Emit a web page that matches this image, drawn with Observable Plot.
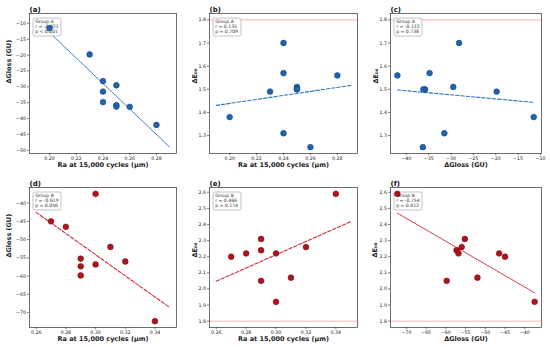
<!DOCTYPE html>
<html><head><meta charset="utf-8">
<script src="https://cdn.jsdelivr.net/npm/d3@7"></script>
<script src="https://cdn.jsdelivr.net/npm/@observablehq/plot@0.6"></script>
<style>
body{margin:0;background:#fff;}
#fig{position:relative;width:550px;height:347px;font-family:"DejaVu Sans";}
#fig svg{position:absolute;overflow:visible;}
</style></head><body><div id="fig"></div>
<script>
// ---- Data ----
// Group A
const raA    = [0.20, 0.23, 0.24, 0.24, 0.24, 0.25, 0.25, 0.25, 0.26, 0.28];
const glossA = [-11.5, -19.8, -28.2, -31.5, -34.8, -29.5, -35.8, -36.2, -36.3, -42.0];
const deA    = [1.38, 1.49, 1.70, 1.31, 1.57, 1.51, 1.50, 1.50, 1.25, 1.56];
// Group B
const raB    = [0.27, 0.28, 0.29, 0.29, 0.29, 0.30, 0.30, 0.31, 0.32, 0.34];
const glossB = [-45.0, -46.5, -55.2, -57.3, -59.8, -37.5, -56.8, -52.0, -56.0, -72.3];
const deB    = [2.20, 2.22, 2.31, 2.24, 2.05, 1.92, 2.22, 2.07, 2.26, 2.59];

const deThreshold = 1.8;

// panel labels and annotation texts
const panelLabels = ["(a)", "(b)", "(c)", "(d)", "(e)", "(f)"];
const groupNames  = ["Group A", "Group A", "Group A", "Group B", "Group B", "Group B"];
const rTexts = ["r = -0.921", "r = 0.135", "r = -0.122", "r = -0.619", "r = 0.466", "r = -0.754"];
const pTexts = ["p < 0.001", "p = 0.709", "p = 0.738", "p = 0.056", "p = 0.174", "p = 0.012"];

// tick values
const raTicksA    = [0.20, 0.22, 0.24, 0.26, 0.28];
const raTicksB    = [0.26, 0.28, 0.30, 0.32, 0.34];
const glossTicksA = [-50, -45, -40, -35, -30, -25, -20, -15, -10];
const glossTicksAx = [-40, -35, -30, -25, -20, -15, -10];
const glossTicksB = [-70, -65, -60, -55, -50, -45, -40];
const deTicksA    = [1.3, 1.4, 1.5, 1.6, 1.7, 1.8];
const deTicksB    = [1.8, 1.9, 2.0, 2.1, 2.2, 2.3, 2.4, 2.5, 2.6];

const labRa = "Ra at 15,000 cycles (\u03bcm)";
const labGloss = "\u0394Gloss (GU)";
const labDE = "\u0394E\u2080\u2080";

// ---- styling ----
const colA = {fill: "#1f62ad", stroke: "#173f72", line: "#2b78c2"};
const colB = {fill: "#b3121c", stroke: "#5e0b10", line: "#d42a3c"};

const cols = [
  {left: 0,   width: 183, ml: 29, mr: 7},
  {left: 183, width: 183, ml: 26, mr: 9},
  {left: 366, width: 184, ml: 24, mr: 9}
];
const rows = [
  {top: 0,   height: 173, mt: 13, mb: 20},
  {top: 173, height: 174, mt: 14, mb: 20}
];

const panels = [
  {row:0,col:0,x:raA,y:glossA,c:colA,xdom:[0.185,0.295],ydom:[-51.0,-6.9],xt:raTicksA,yt:glossTicksA,xf:".2f",yf:"d",xl:labRa,yl:labGloss,ext:"ra",sig:true,th:false,ydx:-21},
  {row:0,col:1,x:raA,y:deA,c:colA,xdom:[0.185,0.295],ydom:[1.2225,1.8275],xt:raTicksA,yt:deTicksA,xf:".2f",yf:".1f",xl:labRa,yl:labDE,ext:"ra",sig:false,th:true,ydx:-15},
  {row:0,col:2,x:glossA,y:deA,c:colA,xdom:[-43.54,-9.76],ydom:[1.2225,1.8275],xt:glossTicksAx,yt:deTicksA,xf:"d",yf:".1f",xl:labGloss,yl:labDE,ext:"data",sig:false,th:true,ydx:-15},
  {row:1,col:0,x:raB,y:glossB,c:colB,xdom:[0.2555,0.3545],ydom:[-74.04,-35.76],xt:raTicksB,yt:glossTicksB,xf:".2f",yf:"d",xl:labRa,yl:labGloss,ext:"ra",sig:false,th:false,ydx:-21},
  {row:1,col:1,x:raB,y:deB,c:colB,xdom:[0.2555,0.3545],ydom:[1.7605,2.6295],xt:raTicksB,yt:deTicksB,xf:".2f",yf:".1f",xl:labRa,yl:labDE,ext:"ra",sig:false,th:true,ydx:-15},
  {row:1,col:2,x:glossB,y:deB,c:colB,xdom:[-74.04,-35.76],ydom:[1.7605,2.6295],xt:glossTicksB,yt:deTicksB,xf:"d",yf:".1f",xl:labGloss,yl:labDE,ext:"data",sig:true,th:true,ydx:-16}
];

function fit(xs, ys) {
  const mx = d3.mean(xs), my = d3.mean(ys);
  let sxy = 0, sxx = 0;
  xs.forEach((x, i) => { sxy += (x - mx) * (ys[i] - my); sxx += (x - mx) ** 2; });
  const b = sxy / sxx;
  return {a: my - b * mx, b};
}

function annotBox(lines) {
  return (...args) => {
    const dims = args.find(a => a && typeof a === "object" && "marginLeft" in a && "marginTop" in a);
    const g = d3.create("svg:g").attr("text-anchor", "start");
    const x0 = dims.marginLeft + 4, y0 = dims.marginTop + 5;
    g.append("rect").attr("x", x0).attr("y", y0).attr("width", 28).attr("height", 18)
      .attr("rx", 2).attr("fill", "white").attr("fill-opacity", 0.8)
      .attr("stroke", "#9a9a9a").attr("stroke-width", 0.6);
    lines.forEach((t, i) => {
      g.append("text").attr("x", x0 + 2.2).attr("y", y0 + 5.4 + i * 5)
        .attr("text-anchor", "start")
        .attr("font-size", 4.6).attr("fill", "#333").attr("font-family", "DejaVu Sans").text(t);
    });
    return g.node();
  };
}

const fig = document.getElementById("fig");

panels.forEach((p, k) => {
  const C = cols[p.col], R = rows[p.row];
  const pts = p.x.map((x, i) => ({x, y: p.y[i]}));
  const {a, b} = fit(p.x, p.y);
  const ext = p.ext === "ra" ? [d3.min(p.x) - 0.01, d3.max(p.x) + 0.01] : d3.extent(p.x);
  const lineData = ext.map(x => ({x, y: a + b * x}));

  const svg = Plot.plot({
    width: C.width, height: R.height,
    marginLeft: C.ml, marginRight: C.mr, marginTop: R.mt, marginBottom: R.mb,
    x: {type: "linear", domain: p.xdom},
    y: {type: "linear", domain: p.ydom},
    style: {fontFamily: "DejaVu Sans", fontSize: "4.7px", color: "#222", background: "transparent", overflow: "visible"},
    marks: [
      p.th ? Plot.ruleY([deThreshold], {stroke: "#f29a9a", strokeWidth: 0.7}) : null,
      Plot.line(lineData, {x: "x", y: "y", stroke: p.c.line,
        strokeWidth: p.sig ? 0.9 : 1.1, strokeDasharray: p.sig ? null : "3.5,1.8", clip: true}),
      annotBox([groupNames[k], rTexts[k], pTexts[k]]),
      Plot.dot(pts, {x: "x", y: "y", r: 2.9, fill: p.c.fill, stroke: p.c.stroke, strokeWidth: 0.5, fillOpacity: 1}),
      Plot.frame({stroke: "#333", strokeWidth: 0.7}),
      Plot.axisX({ticks: p.xt, tickFormat: d3.format(p.xf), tickSize: 2, tickPadding: 1.5, label: null, strokeWidth: 0.6}),
      Plot.axisY({ticks: p.yt, tickFormat: d3.format(p.yf), tickSize: 2, tickPadding: 1.5, label: null, strokeWidth: 0.6}),
      Plot.text([p.xl], {text: d => d, frameAnchor: "bottom", dy: 13, fontWeight: "bold", fontSize: 6.5, fill: "#222"}),
      Plot.text([p.yl], {text: d => d, frameAnchor: "left", dx: p.ydx, rotate: -90, fontWeight: "bold", fontSize: 6.5, fill: "#222"}),
      Plot.text([panelLabels[k]], {text: d => d, frameAnchor: "top-left", textAnchor: "start", lineAnchor: "bottom", dy: -1.5, fontWeight: "bold", fontSize: 7, fill: "#111"})
    ]
  });
  svg.style.left = C.left + "px";
  svg.style.top = R.top + "px";
  fig.appendChild(svg);
});
</script>
</body></html>
